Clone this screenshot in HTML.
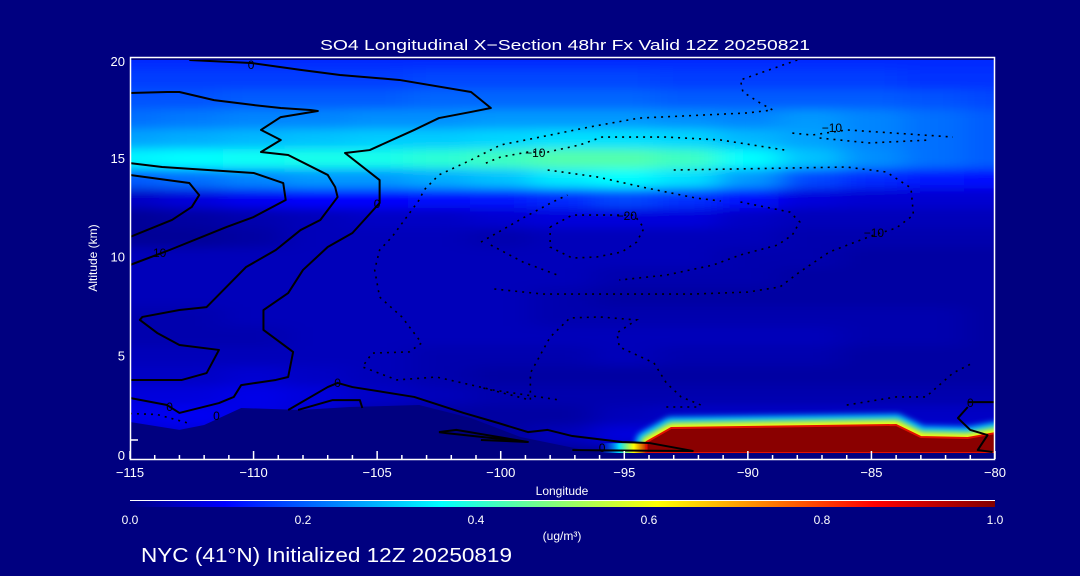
<!DOCTYPE html>
<html><head><meta charset="utf-8">
<style>
html,body{margin:0;padding:0;background:#000080;}
svg{display:block;font-family:"Liberation Sans",sans-serif;}
</style></head>
<body>
<svg id="chart" width="1080" height="576" viewBox="0 0 1080 576" xmlns="http://www.w3.org/2000/svg">
<defs>
<clipPath id="plotclip"><rect x="130" y="60" width="865" height="394"/></clipPath>
<filter id="blurf" filterUnits="userSpaceOnUse" x="0" y="0" width="1080" height="576"><feGaussianBlur stdDeviation="16 5"/></filter>
<filter id="haloblur" filterUnits="userSpaceOnUse" x="0" y="0" width="1080" height="576"><feGaussianBlur stdDeviation="3"/></filter>
<linearGradient id="cbgrad" x1="0" x2="1" y1="0" y2="0">
<stop offset="0" stop-color="#000080"/><stop offset="0.11" stop-color="#0000ff"/><stop offset="0.36" stop-color="#00ffff"/><stop offset="0.61" stop-color="#ffff00"/><stop offset="0.86" stop-color="#ff0000"/><stop offset="1" stop-color="#800000"/>
</linearGradient>
<linearGradient id="nosegrad" x1="0" x2="1" y1="0" y2="0">
<stop offset="0" stop-color="#0040ff" stop-opacity="0"/><stop offset="0.4" stop-color="#00e0ff"/><stop offset="0.7" stop-color="#ffff00"/><stop offset="1" stop-color="#c00000"/>
</linearGradient>
</defs>
<rect x="0" y="0" width="1080" height="576" fill="#000080"/>
<g id="field" clip-path="url(#plotclip)">
  <g id="cells" filter="url(#blurf)"></g>
  <g id="surface"></g>
</g>
<g id="contours" clip-path="url(#plotclip)"></g>
<g id="axes"></g>
<text x="320" y="50" fill="#fff" font-size="15" textLength="490" lengthAdjust="spacingAndGlyphs">SO4 Longitudinal X−Section 48hr  Fx Valid 12Z 20250821</text>
<text x="562" y="495" fill="#fff" font-size="12" text-anchor="middle">Longitude</text>
<text x="0" y="0" fill="#fff" font-size="12" text-anchor="middle" transform="translate(97,258) rotate(-90)">Altitude (km)</text>
<line x1="130" y1="500.5" x2="995" y2="500.5" stroke="#fff" stroke-width="1"/>
<rect x="130" y="501" width="865" height="6" fill="url(#cbgrad)"/>
<g id="cblabels"></g>
<text x="562" y="540" fill="#fff" font-size="12" text-anchor="middle">(ug/m³)</text>
<text x="141" y="562" fill="#fff" font-size="20" textLength="371" lengthAdjust="spacingAndGlyphs">NYC (41°N) Initialized 12Z 20250819</text>
</svg>
<script>
// ---- data ----
const lons = [-115,-112.5,-110,-107.5,-105,-102.5,-100,-97.5,-95,-92.5,-90,-87.5,-85,-82.5,-80];
const alts = [20,19,18,17,16,15,14,13,12,11,10,9,8,7,6,5,4,3,2,1,0];
const r20 = [.15,.15,.15,.15,.15,.15,.15,.15,.15,.15,.15,.15,.15,.15,.15];
const r19 = [.17,.17,.17,.17,.17,.18,.18,.18,.18,.17,.17,.17,.17,.16,.16];
const r18 = [.19,.19,.2,.2,.2,.21,.21,.21,.21,.2,.2,.2,.2,.19,.18];
const r17 = [.22,.23,.24,.24,.25,.25,.26,.26,.26,.25,.24,.26,.24,.22,.2];
const r16 = [.27,.28,.29,.3,.31,.31,.32,.33,.33,.32,.29,.27,.24,.22,.2];
const r15 = [.35,.36,.37,.38,.38,.4,.42,.44,.44,.42,.36,.3,.25,.22,.2];
const r14 = [.2,.22,.24,.26,.26,.28,.3,.34,.36,.33,.26,.18,.15,.13,.12];
const r13 = [.06,.08,.1,.11,.11,.12,.13,.15,.18,.16,.12,.08,.07,.07,.07];
const r12 = [.02,.03,.04,.05,.06,.06,.07,.08,.08,.08,.06,.05,.05,.05,.05];
const r11 = [.02,.02,.03,.05,.05,.05,.04,.05,.05,.05,.05,.04,.04,.04,.04];
const r10 = [.05,.05,.05,.05,.05,.05,.05,.05,.05,.05,.04,.04,.03,.03,.03];
const r9  = [.05,.05,.05,.05,.05,.05,.05,.05,.04,.04,.04,.03,.03,.03,.03];
const r8  = [.05,.05,.05,.05,.05,.05,.05,.04,.03,.03,.03,.03,.03,.03,.03];
const r7  = [.04,.04,.05,.05,.05,.05,.05,.04,.04,.04,.04,.04,.04,.04,.03];
const r6  = [.04,.04,.04,.05,.05,.05,.05,.05,.05,.05,.05,.05,.04,.04,.03];
const r5  = [.05,.05,.05,.05,.05,.04,.04,.04,.05,.04,.04,.04,.03,.03,.03];
const r4  = [.06,.06,.07,.06,.05,.04,.03,.03,.03,.03,.03,.03,.03,.03,.03];
const r3  = [.08,.08,.09,.08,.06,.05,.04,.04,.04,.04,.04,.04,.04,.04,.04];
const r2  = [.09,.1,.09,.07,.04,.03,.03,.03,.05,.06,.06,.06,.06,.06,.06];
const r1  = [.07,.08,.07,.03,.02,.02,.03,.05,.08,.08,.08,.08,.08,.08,.08];
const r0  = [.02,.02,.02,.02,.02,.02,.02,.02,.02,.02,.02,.02,.02,.02,.02];
const rows = [r20,r19,r18,r17,r16,r15,r14,r13,r12,r11,r10,r9,r8,r7,r6,r5,r4,r3,r2,r1,r0];

const terrainLon = [-115,-113,-112,-110.5,-108.1,-106.1,-103.3,-101.2,-99.2,-96.8,-80];
const terrainAlt = [1.67,1.27,1.52,2.38,2.28,2.43,2.53,1.87,0.91,0.3,0.15];
const plumeLon = [-94.1,-93.1,-84,-83,-81.1,-80];
const plumeTop = [0.66,1.37,1.52,0.91,0.86,1.11];
const plumeBase = 0.1;

const xTicksMajor = [-115,-110,-105,-100,-95,-90,-85,-80];
const xTickLabels = ['−115','−110','−105','−100','−95','−90','−85','−80'];
const yTicks = [0,5,10,15,20];
const yTickLabels = ['0','5','10','15','20'];
const cbValues = [0,0.2,0.4,0.6,0.8,1.0];
const cbLabels = ['0.0','0.2','0.4','0.6','0.8','1.0'];

const solidA = [[-112.6,20],[-110.1,19.85],[-108.1,19.5],[-106.5,19.24],[-104.1,18.99],[-101.2,18.38],[-100.4,17.57],[-101.2,17.37],[-102.5,17.06],[-103.5,16.46],[-105.3,15.44],[-106.3,15.29],[-104.9,13.92],[-104.9,12.76],[-106,11.24],[-107,10.53],[-108,9.37],[-108.6,8.2],[-109.6,7.34],[-109.6,6.33],[-108.4,5.22],[-108.6,3.95],[-109.1,3.8],[-110.5,3.54],[-110.8,2.94],[-111.4,2.63],[-113,2.13],[-113.5,2.53],[-115,2.89]];
const solidC = [[-115,18.33],[-113.5,18.38],[-113,18.38],[-111.6,17.97],[-110,17.72],[-108.9,17.57],[-107.7,17.47],[-107.4,17.42],[-108.9,17.11],[-109.7,16.46],[-108.9,15.95],[-109.7,15.34],[-108.6,15.19],[-107,14.18],[-106.7,13.57],[-106.6,13.06],[-107.3,11.9],[-108.1,11.39],[-109.1,10.38],[-110.3,9.52],[-111.9,7.49],[-113,7.34],[-114.5,6.99],[-114.6,6.84],[-113.9,6.18],[-113,5.57],[-111.4,5.32],[-111.9,4.15],[-112.9,3.8],[-115,3.8]];
const solidD = [[-115,14.78],[-113.7,14.58],[-110,14.28],[-108.8,13.77],[-108.7,12.91],[-110,12.05],[-111.1,11.54],[-113.4,10.38],[-115,9.62]];
const solidE = [[-115,14.18],[-112.6,13.77],[-112.2,13.16],[-112.5,12.56],[-113.3,11.9],[-115,11.04]];
const solidG = [[-108.6,2.28],[-107,3.44],[-106.6,3.65],[-106,3.44],[-103.5,2.94],[-101.5,2.13],[-100.1,1.62],[-98.9,1.16],[-98.1,1.27],[-97.1,0.96],[-95.1,0.66],[-94,0.61],[-92.2,0.2]];
const solidH = [[-108.2,2.28],[-106.8,2.78],[-105.7,2.78],[-105.6,2.38]];
const solidI = [[-102.5,1.16],[-101.8,1.27],[-98.9,0.66],[-102.2,1.11],[-102.5,1.16]];
const solidJ = [[-100.8,0.76],[-98.9,0.66]];
const solidK = [[-97.1,0.25],[-92.2,0.2]];
const solidL = [[-81.1,2.43],[-81.5,1.87],[-81,1.27],[-80.3,1.01],[-80.7,0.25],[-80.1,0.15]];
const solidM = [[-81.1,2.68],[-80,2.68]];
const solidLines = [solidA,solidC,solidD,solidE,solidG,solidH,solidI,solidJ,solidK,solidL,solidM];

const dotP1 = [[-88,20],[-90.3,18.99],[-90.2,18.38],[-89.5,17.82],[-89,17.47],[-90,17.32],[-92.7,17.16],[-94.4,17.06],[-96.4,16.61],[-98,16.2],[-100,15.7],[-101.2,14.94],[-102.5,14.18],[-103.1,13.42],[-103.3,12.91],[-104.4,11.04],[-104.9,10.38],[-105.1,9.37],[-104.9,8],[-104,6.99],[-103.2,5.67],[-103.7,5.22],[-105.2,5.16],[-105.6,4.46],[-104.2,3.8],[-102.6,3.95],[-100.3,3.29],[-97.6,2.78]];
const dotP2 = [[-100.6,14.78],[-100,15.09],[-98.9,15.34],[-98.1,15.34],[-96.8,15.7],[-95.9,16.1],[-93.3,16.1],[-91.1,15.95],[-88.5,15.44],[-88.4,15.34]];
const dotP3 = [[-98.1,14.43],[-96.1,14.08],[-94.1,13.52],[-92.1,13.01],[-91.1,12.86]];
const dotP4 = [[-93,14.43],[-86,14.58],[-84.4,14.33],[-83.4,13.52],[-83.3,12.15],[-84,11.49],[-84.9,11.14],[-86.7,10.28],[-87.9,9.27],[-88.7,8.51],[-90,8.25],[-92.2,8.15],[-98.3,8.15],[-100.3,8.41]];
const dotP5 = [[-98,11.54],[-97.1,12.15],[-94.6,12.15],[-94.2,11.49],[-94.5,10.78],[-95.1,10.28],[-96.1,10.03],[-97.1,9.97],[-98,10.53],[-98,11.54]];
const dotP6 = [[-90.3,12.81],[-88.3,12.3],[-87.9,11.8],[-88.2,11.14],[-88.8,10.63],[-90.3,10.13],[-91.4,9.62],[-93.3,9.11],[-95.2,8.86]];
const dotP7 = [[-100.8,10.78],[-99.1,12],[-97.9,12.81],[-97.3,13.16]];
const dotP8 = [[-100.4,10.63],[-99.1,9.77],[-97.7,9.11]];
const dotP9 = [[-100.7,3.39],[-99.6,3.04],[-98.8,2.78],[-98.8,4.15],[-98,5.97],[-97.2,6.94],[-96,6.99],[-94.5,6.84],[-95.3,6.18],[-95.2,5.47],[-93.8,4.66],[-93.3,3.65],[-92.7,2.94],[-91.9,2.53]];
const dotP10 = [[-88.2,16.3],[-87.4,16.2],[-86,16.46],[-81.7,16.1]];
const dotP10b = [[-87.1,16.05],[-85.1,15.8],[-82.6,15.95]];
const dotP11 = [[-86,2.53],[-84,2.94],[-82.8,2.94],[-81.7,4.15],[-80.9,4.66]];
const dotP12 = [[-93.3,2.43],[-91.9,2.43]];
const dotP13 = [[-115,2.1],[-113.9,2.05],[-112.6,1.6]];
const dotLines = [dotP1,dotP2,dotP3,dotP4,dotP5,dotP6,dotP7,dotP8,dotP9,dotP10,dotP10b,dotP11,dotP12,dotP13];

const labelText = ['0','0','0','0','0','0','0','10','−10','−20','−10','−10'];
const labelLon = [-110.1,-105,-113.4,-111.5,-106.6,-95.9,-81,-113.8,-98.6,-94.9,-86.6,-84.9];
const labelAlt = [19.75,12.7,2.43,1.97,3.65,0.35,2.63,10.23,15.3,12.1,16.56,11.24];

// ---- axis functions ----
const X = lon => 130 + (lon + 115) / 35 * 865;
const Y = alt => 455 - alt * 19.75;
const NS = 'http://www.w3.org/2000/svg';
function jet(v){
  v = Math.max(0, Math.min(1, v));
  let r=0,g=0,b=0;
  if (v < 0.11){ b = 128 + 127*v/0.11; }
  else if (v < 0.36){ g = 255*(v-0.11)/0.25; b = 255; }
  else if (v < 0.61){ const t=(v-0.36)/0.25; r=255*t; g=255; b=255*(1-t); }
  else if (v < 0.86){ const t=(v-0.61)/0.25; r=255; g=255*(1-t); }
  else { r = 255 - 127*(v-0.86)/0.14; }
  return `rgb(${Math.round(r)},${Math.round(g)},${Math.round(b)})`;
}
function mk(tag, attrs, parent){
  const e = document.createElementNS(NS, tag);
  for (const k in attrs) e.setAttribute(k, attrs[k]);
  parent.appendChild(e); return e;
}
const cells = document.getElementById('cells');
const dLon = 2.5, dAlt = 1;
rows.forEach((row, i) => {
  row.forEach((v, j) => {
    let x0 = X(lons[j] - dLon/2), x1 = X(lons[j] + dLon/2);
    let y0 = Y(alts[i] + dAlt/2), y1 = Y(alts[i] - dAlt/2);
    if (j === 0) x0 -= 60;
    if (j === row.length-1) x1 += 60;
    if (i === 0) y0 -= 40;
    if (i === rows.length-1) y1 += 40;
    const r = mk('rect', {x:x0, y:y0, width:x1-x0+0.5, height:y1-y0+0.5, fill:jet(v)}, cells);
    
    
  });
});
const surface = document.getElementById('surface');
let tp = terrainLon.map((l,i)=>`${X(l)},${Y(terrainAlt[i])}`);
tp.unshift(`${X(-115)-5},${Y(-1)}`); tp.push(`${X(-80)+5},${Y(terrainAlt[terrainAlt.length-1])}`, `${X(-80)+5},${Y(-1)}`);
const terr = mk('polygon', {points: tp.join(' '), fill:'#000080'}, surface);


let pp = plumeLon.map((l,i)=>`${X(l)},${Y(plumeTop[i])}`);
pp.push(`${X(-80)+20},${Y(plumeTop[plumeTop.length-1])}`, `${X(-80)+20},${Y(plumeBase)}`, `${X(plumeLon[0])},${Y(plumeBase)}`);
const pts = pp.join(' ');
const halo1 = mk('polygon', {points: pts, fill:'none', stroke:'#00c0ff', 'stroke-width':22, 'stroke-linejoin':'round', filter:'url(#haloblur)'}, surface);


const halo2 = mk('polygon', {points: pts, fill:'none', stroke:'#ffff00', 'stroke-width':10, 'stroke-linejoin':'round', filter:'url(#haloblur)'}, surface);


const nose = mk('rect', {x:X(-96), y:Y(0.6), width:X(plumeLon[0])-X(-96)+2, height:Y(plumeBase)-Y(0.6), fill:'url(#nosegrad)'}, surface);


const plume = mk('polygon', {points: pts, fill:'#8a0000', stroke:'#e01000', 'stroke-width':2}, surface);


const strip = mk('rect', {x:130, y:Y(plumeBase), width:870, height:20, fill:'#000080'}, surface);



const cg = document.getElementById('contours');
solidLines.forEach(line => {
  const p = mk('polyline', {points: line.map(d=>`${X(d[0])},${Y(d[1])}`).join(' '), fill:'none', stroke:'#000', 'stroke-width':2, 'stroke-linejoin':'round'}, cg);
  
  
});
dotLines.forEach(line => {
  const p = mk('polyline', {points: line.map(d=>`${X(d[0])},${Y(d[1])}`).join(' '), fill:'none', stroke:'#000', 'stroke-width':1.6, 'stroke-dasharray':'2 5'}, cg);
  
  
});
labelText.forEach((t,i) => {
  const e = mk('text', {x:X(labelLon[i]), y:Y(labelAlt[i])+4, 'font-size':12, fill:'#000', 'text-anchor':'middle'}, cg);
  e.textContent = t;
  
  
});

const ax = document.getElementById('axes');
const frame = mk('rect', {x:130.5, y:57.5, width:864, height:402, fill:'none', stroke:'#fff', 'stroke-width':1.5}, ax);


for (let l = -115; l <= -80; l += 1){
  const major = xTicksMajor.includes(l);
  const t = mk('line', {x1:X(l), x2:X(l), y1:459, y2: major ? 451 : 455, stroke:'#fff', 'stroke-width':1.5}, ax);
  
  
}
xTicksMajor.forEach((l,i) => {
  const e = mk('text', {x:X(l), y:477, 'font-size':13, fill:'#fff', 'text-anchor':'middle'}, ax);
  e.textContent = xTickLabels[i];
  
  
});
const yt = mk('line', {x1:130, x2:138, y1:Y(0.76), y2:Y(0.76), stroke:'#fff', 'stroke-width':1.5}, ax);


yTicks.forEach((a,i) => {
  const yy = a === 0 ? 460 : (a === 20 ? 66 : Y(a) + 4);
  const e = mk('text', {x:125, y:yy, 'font-size':13, fill:'#fff', 'text-anchor':'end'}, ax);
  e.textContent = yTickLabels[i];
  
  
});
const cbl = document.getElementById('cblabels');
cbValues.forEach((v,i) => {
  const e = mk('text', {x:130 + v*865, y:524, 'font-size':12, fill:'#fff', 'text-anchor':'middle'}, cbl);
  e.textContent = cbLabels[i];
  
  
});
</script>
</body></html>
